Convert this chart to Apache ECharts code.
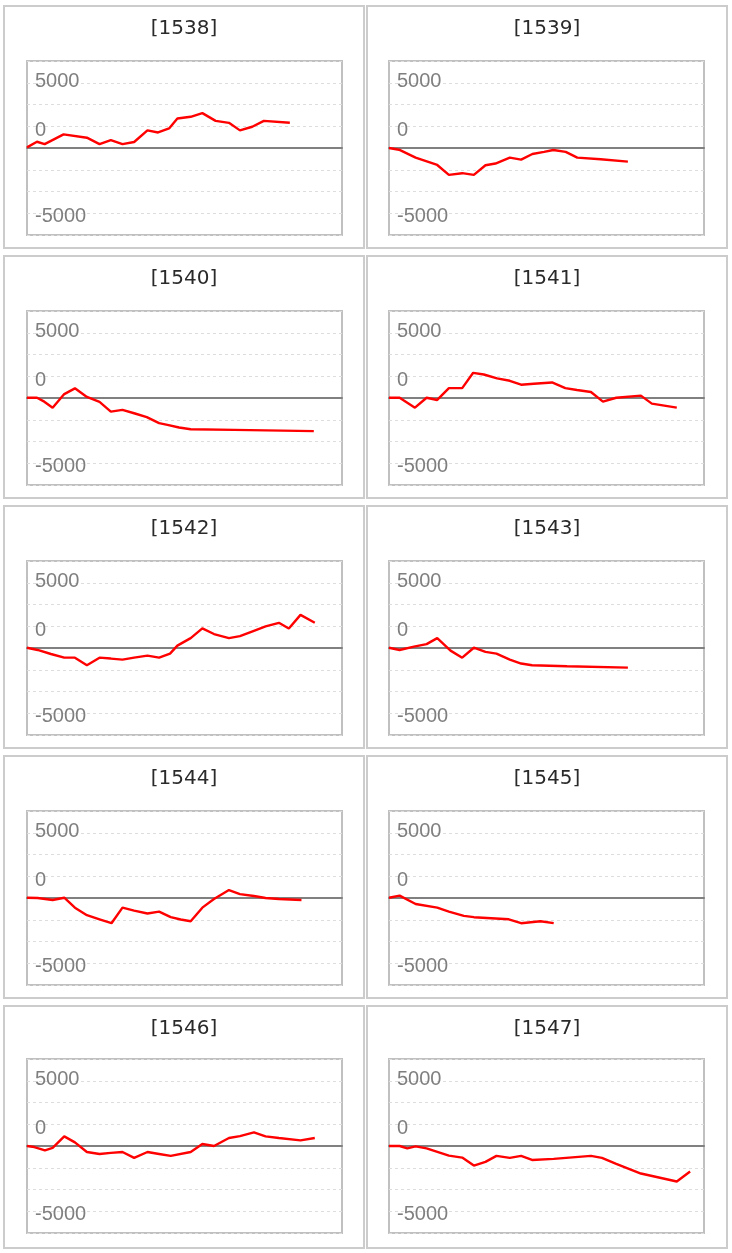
<!DOCTYPE html>
<html>
<head>
<meta charset="utf-8">
<script src="https://cdn.jsdelivr.net/npm/echarts@6/dist/echarts.min.js"></script>
<style>
html,body{margin:0;padding:0;background:#fff;}
#chart{width:732px;height:1253px;}
</style>
</head>
<body>
<div id="chart"></div>
<script>
// ---- data ----
const panelIds = ['1538','1539','1540','1541','1542','1543','1544','1545','1546','1547'];
const yTickLabels = [5000, 0, -5000];

const x1538 = [0,253,448,929,1521,1842,2129,2425,2721,3059,3329,3608,3819,4157,4453,4791,5129,5408,5720,6016,6675];
const y1538 = [50,480,300,1040,790,300,610,300,460,1350,1190,1500,2260,2390,2670,2080,1930,1350,1630,2080,1930];

const x1539 = [0,254,676,1225,1521,1859,2155,2450,2704,3068,3355,3642,3938,4174,4487,4782,5374,6067];
const y1539 = [0,-130,-740,-1300,-2060,-1930,-2060,-1320,-1190,-740,-890,-460,-300,-150,-300,-740,-860,-1040];

const x1540 = [0,254,439,651,946,1217,1521,1842,2129,2425,2721,3042,3355,3566,3862,4157,5256,7284];
const y1540 = [20,20,-280,-740,300,740,80,-300,-1040,-910,-1170,-1470,-1930,-2060,-2260,-2390,-2440,-2540];

const x1541 = [0,270,465,659,955,1225,1521,1859,2138,2408,2746,3068,3355,3676,4141,4479,4774,5129,5433,5771,6397,6675,7309];
const y1541 = [20,20,-360,-740,20,-150,760,760,1930,1800,1500,1320,1020,1090,1190,760,610,460,-280,20,180,-430,-740];

const x1542 = [0,270,608,946,1217,1521,1842,2129,2425,2721,3059,3355,3633,3819,4157,4453,4749,5129,5408,5763,6059,6397,6650,6946,7309];
const y1542 = [20,-150,-460,-740,-740,-1320,-740,-810,-890,-740,-580,-740,-430,180,760,1500,1070,760,910,1320,1650,1930,1500,2540,1930];

const x1543 = [0,270,634,955,1225,1563,1859,2155,2450,2729,3068,3355,3633,4521,6067];
const y1543 = [20,-150,100,300,760,-200,-740,20,-300,-430,-890,-1190,-1320,-1400,-1500];

const x1544 = [0,270,651,946,1217,1521,1842,2146,2425,2721,3059,3355,3650,3904,4157,4453,4749,5129,5408,5763,6059,6397,6971];
const y1544 = [20,0,-150,20,-740,-1320,-1630,-1930,-740,-970,-1190,-1040,-1470,-1650,-1780,-740,-80,610,300,150,0,-80,-150];

const x1545 = [0,270,676,1225,1521,1901,2155,3042,3355,3845,4183];
const y1545 = [20,180,-460,-740,-1040,-1370,-1470,-1630,-1930,-1780,-1930];

const x1546 = [0,186,456,651,946,1217,1521,1842,2129,2425,2721,3059,3355,3650,4157,4453,4749,5129,5408,5763,6059,6397,6946,7309];
const y1546 = [0,-80,-330,-150,740,280,-460,-610,-530,-460,-910,-460,-610,-760,-460,150,0,610,760,1040,740,610,430,610];

const x1547 = [0,270,465,676,955,1521,1859,2155,2450,2729,3068,3355,3633,4183,5129,5408,5771,6397,7309,7647];
const y1547 = [0,0,-180,-30,-180,-740,-890,-1500,-1220,-760,-910,-760,-1070,-990,-760,-910,-1370,-2110,-2720,-1960];

const seriesX = [x1538,x1539,x1540,x1541,x1542,x1543,x1544,x1545,x1546,x1547];
const seriesY = [y1538,y1539,y1540,y1541,y1542,y1543,y1544,y1545,y1546,y1547];

// ---- build ----
const chart = echarts.init(document.getElementById('chart'), null, {renderer:'canvas'});
const grids = [], xAxes = [], yAxes = [], series = [], titles = [], graphics = [];
const labelKeys = ['a','z','b'];
const labelFont = {fontSize:20, fontFamily:'Liberation Sans, Arial, sans-serif', color:'#7f7f7f'};

panelIds.forEach((id, i) => {
  const c = i % 2, r = Math.floor(i / 2);
  const panelX = 4 + 363 * c;
  const panelY = 6 + 250 * r;
  const gTop = 61 + 250 * r - (r === 4 ? 2 : 0);
  graphics.push({
    type:'rect', silent:true, z:-1,
    shape:{x:panelX, y:panelY, width:360, height:242},
    style:{fill:'#fff', stroke:'#cccccc', lineWidth:2}
  });
  titles.push({
    text:'[' + id + ']',
    left: panelX + 180, top: panelY + 13, textAlign:'center', padding:0,
    textStyle:{fontSize:20, fontWeight:'normal', fontFamily:'DejaVu Sans, sans-serif', color:'#2a2a2a'}
  });
  grids.push({
    left: 27 + 362 * c, top: gTop, width: 315, height: 174,
    show:true, borderColor:'#c0c0c0', borderWidth:2, backgroundColor:'transparent'
  });
  xAxes.push({
    gridIndex:i, type:'value', min:0, max:8000,
    axisLine:{show:true, onZero:true, lineStyle:{color:'#808080', width:2}},
    axisTick:{show:false}, axisLabel:{show:false}, splitLine:{show:false}
  });
  yAxes.push({
    gridIndex:i, type:'value', min:-20000/3, max:20000/3, interval:5000/3,
    axisLine:{show:false}, axisTick:{show:false},
    splitLine:{show:true, lineStyle:{color:'#dddddd', type:[3,3], width:1}},
    axisLabel:{
      inside:true, margin:8, ...labelFont,
      formatter: v => {
        const k = yTickLabels.indexOf(Math.round(v));
        return k < 0 ? '' : '{' + labelKeys[k] + '|' + yTickLabels[k] + '}';
      },
      rich:{
        a:{...labelFont, padding:[0,0,2,0]},
        z:{...labelFont, padding:[0,0,36,0]},
        b:{...labelFont, padding:[6,0,0,0]}
      }
    }
  });
  series.push({
    type:'line', xAxisIndex:i, yAxisIndex:i,
    data: seriesX[i].map((x, k) => [x, seriesY[i][k]]),
    symbol:'none', showSymbol:false, animation:false,
    lineStyle:{color:'#ff0000', width:2.4}
  });
});

chart.setOption({
  backgroundColor:'#fff',
  animation:false,
  title:titles, grid:grids, xAxis:xAxes, yAxis:yAxes, series:series, graphic:graphics
});
</script>
</body>
</html>
